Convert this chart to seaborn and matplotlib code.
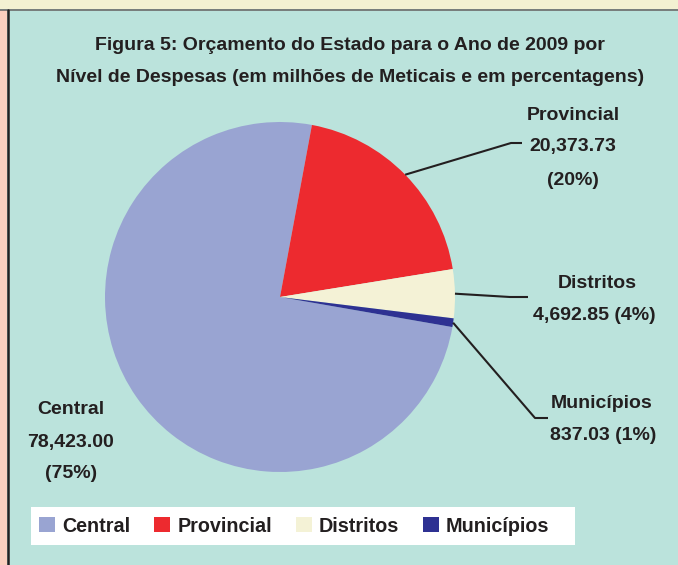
import matplotlib
matplotlib.use("Agg")
import matplotlib.pyplot as plt
import seaborn as sns
import numpy as np
from matplotlib.patches import Rectangle, Patch
from matplotlib.lines import Line2D

categories = ["Central", "Provincial", "Distritos", "Municípios"]
values = [78423.00, 20373.73, 4692.85, 837.03]
value_labels = ["78,423.00", "20,373.73", "4,692.85", "837.03"]
pct_labels = ["(75%)", "(20%)", "(4%)", "(1%)"]
colors = ["#99a4d2", "#ed2a2f", "#f4f2d6", "#2e3192"]
title_lines = ["Figura 5: Orçamento do Estado para o Ano de 2009 por",
               "Nível de Despesas (em milhões de Meticais e em percentagens)"]

sns.set_theme(style="white")
plt.rcParams['font.family'] = ['Liberation Sans', 'DejaVu Sans']

TXT = "#231f20"
W, H = 678, 565
fig = plt.figure(figsize=(W / 100, H / 100), dpi=100)
fig.patch.set_facecolor("#bbe3dc")


def fx(px):
    return px / W


def fy(py):
    return 1 - py / H


# frame decorations
fig.patches.append(Rectangle((0, fy(9)), 1, 9 / H, transform=fig.transFigure,
                             facecolor="#f3f1d2", edgecolor="none", zorder=0))
fig.patches.append(Rectangle((0, 0), fx(7), fy(10), transform=fig.transFigure,
                             facecolor="#fbcfbf", edgecolor="none", zorder=0))
fig.lines.append(Line2D([0, 1], [fy(9.5), fy(9.5)], transform=fig.transFigure,
                        color="#6b6b6b", lw=1.2))
fig.lines.append(Line2D([fx(8), fx(8)], [0, fy(9.5)], transform=fig.transFigure,
                        color="#231f20", lw=1.8))
# legend backing box
fig.patches.append(Rectangle((fx(31), fy(545)), (575 - 31) / W, 38 / H,
                             transform=fig.transFigure, facecolor="white",
                             edgecolor="none", zorder=0))

# title
for i, line in enumerate(title_lines):
    fig.text(fx(350), fy(45 + 32 * i), line, ha="center", va="center",
             fontsize=14, fontweight="bold", color=TXT)

# pie
cx, cy, R = 280, 297, 175
ax = fig.add_axes([fx(cx - R), fy(cy + R), 2 * R / W, 2 * R / H])
wedges, _ = ax.pie(values, colors=colors, startangle=350.1, counterclock=False,
                   radius=1, wedgeprops=dict(linewidth=0))
ax.set_xlim(-1, 1)
ax.set_ylim(-1, 1)
ax.axis("off")


def to_data(px, py):
    return (px - cx) / R, (cy - py) / R


# leader lines (elbow, end) in pixels
leaders = {1: [(511, 143), (522, 143)],
           2: [(510, 297), (528, 297)],
           3: [(535, 418), (548, 418)]}
for idx, pts in leaders.items():
    w = wedges[idx]
    th = np.deg2rad((w.theta1 + w.theta2) / 2)
    xs = [np.cos(th)] + [to_data(*p)[0] for p in pts]
    ys = [np.sin(th)] + [to_data(*p)[1] for p in pts]
    ax.plot(xs, ys, color=TXT, lw=1.5, clip_on=False, solid_capstyle="butt")

# labels
label_specs = [
    (0, [(71, 410, categories[0]), (71, 442, value_labels[0]), (71, 474, pct_labels[0])]),
    (1, [(573, 115, categories[1]), (573, 147, value_labels[1]), (573, 180, pct_labels[1])]),
    (2, [(597, 284, categories[2]), (594, 315, value_labels[2] + " " + pct_labels[2])]),
    (3, [(602, 404, categories[3]), (603, 435, value_labels[3] + " " + pct_labels[3])]),
]
for _, lines in label_specs:
    for x, y, s in lines:
        fig.text(fx(x), fy(y), s, ha="center", va="center", fontsize=14,
                 fontweight="bold", color=TXT)

# legend
handles = [Patch(facecolor=c, edgecolor="none") for c in colors]
leg = fig.legend(handles, categories, loc="center left",
                 bbox_to_anchor=(fx(31), fy(526)), ncol=4, frameon=False,
                 borderaxespad=0, borderpad=0.4,
                 handlelength=0.82, handleheight=0.82, handletextpad=0.36,
                 columnspacing=1.2,
                 prop=dict(weight="bold", size=14.2))
for t in leg.get_texts():
    t.set_color(TXT)

fig.savefig("out.png", dpi=100, facecolor=fig.get_facecolor())
